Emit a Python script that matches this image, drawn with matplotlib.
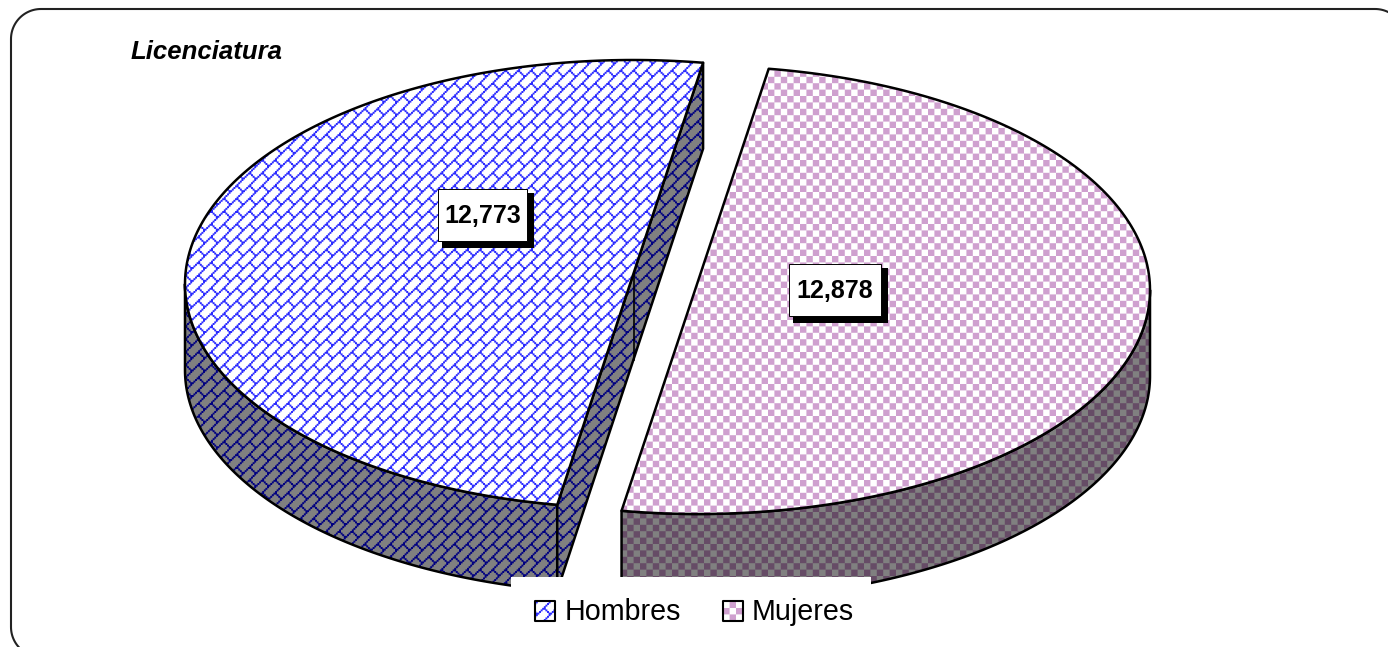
import numpy as np
import matplotlib
matplotlib.use("Agg")
import matplotlib.pyplot as plt
from matplotlib.patches import Polygon, Rectangle
from matplotlib.colors import to_rgb

plt.rcParams['font.family'] = ['Liberation Sans', 'DejaVu Sans']

W, H = 1388, 647

categories = ['Hombres', 'Mujeres']
values = [12773, 12878]
title = 'Licenciatura'

# gdi style hatch tiles, scaled up in the source picture
BRICK = np.array([
    [0, 0, 0, 0, 0, 0, 0, 1],
    [0, 0, 0, 0, 0, 0, 1, 0],
    [0, 0, 0, 0, 0, 1, 0, 0],
    [0, 0, 0, 0, 1, 0, 0, 0],
    [0, 0, 0, 1, 1, 0, 0, 0],
    [0, 0, 1, 0, 0, 1, 0, 0],
    [0, 1, 0, 0, 0, 0, 1, 0],
    [1, 0, 0, 0, 0, 0, 0, 1],
])
CHECK = np.array([
    [1, 1, 1, 1, 0, 0, 0, 0],
    [1, 1, 1, 1, 0, 0, 0, 0],
    [1, 1, 1, 1, 0, 0, 0, 0],
    [1, 1, 1, 1, 0, 0, 0, 0],
    [0, 0, 0, 0, 1, 1, 1, 1],
    [0, 0, 0, 0, 1, 1, 1, 1],
    [0, 0, 0, 0, 1, 1, 1, 1],
    [0, 0, 0, 0, 1, 1, 1, 1],
])


def texture(tile, bg, fg, grow=0):
    # 1 tile pixel = 1.6 image pixels, supersampled 5x
    hi = np.kron(tile, np.ones((8, 8)))
    ny = H * 5 // hi.shape[0] + 2
    nx = W * 5 // hi.shape[1] + 2
    hi = np.tile(hi, (ny, nx))
    # thicken thin hatch lines a little, the source is blurred
    for s in range(1, grow + 1):
        hi = np.maximum.reduce([hi, np.roll(hi, s, 0), np.roll(hi, -s, 0),
                                np.roll(hi, s, 1), np.roll(hi, -s, 1)])
    hi = hi[:H * 5, :W * 5]
    m = hi.reshape(H, 5, W, 5).mean(axis=(1, 3))[..., None]
    return np.array(to_rgb(bg)) * (1 - m) + np.array(to_rgb(fg)) * m


def fill(ax, pts, tex, z, lw=1.8):
    outline = Polygon(pts, closed=True, fc='none', ec='black', lw=lw, zorder=z + 0.1, joinstyle='round')
    ax.add_patch(outline)
    im = ax.imshow(tex, extent=(0, W, H, 0), aspect='auto', interpolation='nearest', zorder=z)
    im.set_clip_path(outline)


def arc(cx, cy, a, b, t0, t1, n=200):
    t = np.radians(np.linspace(t0, t1, n))
    return np.column_stack([cx + a * np.cos(t), cy - b * np.sin(t)])


fig = plt.figure(figsize=(W / 100, H / 100), dpi=100)
ax = fig.add_axes([0, 0, 1, 1])

tex_h = texture(BRICK, 'white', '#2a2aff', grow=1)
tex_hw = texture(BRICK, '#808080', '#000080', grow=1)
tex_m = texture(CHECK, 'white', '#cfa0cf')
tex_mw = texture(CHECK, '#808080', '#664c66')

start = 81.0
depth = 86
sweep = [360 * v / sum(values) for v in values]
split = start + sweep[0]

# hombres slice
hc = (633, 284, 448, 224)
top_h = arc(*hc, start, split)
apex = np.array([634, 272])
down = np.array([0, depth])
cut = [top_h[0], top_h[0] + down, apex + down, top_h[-1] + down, top_h[-1]]
low = arc(*hc, 180, split)
fill(ax, np.vstack([low, low[::-1] + down]), tex_hw, 2)
fill(ax, cut, tex_hw, 3)
fill(ax, np.vstack([top_h, apex]), tex_h, 4)
ax.plot([apex[0], apex[0]], [apex[1], apex[1] + depth + 2], color='black', lw=1.2, zorder=3.5)

# mujeres slice
mc = (698, 290, 452, 224)
top_m = arc(*mc, split, start + 360)
low = arc(*mc, split, 360)
fill(ax, np.vstack([low, low[::-1] + down]), tex_mw, 2)
fill(ax, top_m, tex_m, 4)

# value labels with drop shadow
label_boxes = [(438, 189, 89, 52), (789, 264, 92, 52)]
for (x, y, w, h), v in zip(label_boxes, values):
    ax.add_patch(Rectangle((x + 4, y + 4), w + 3, h + 3, fc='black', ec='none', zorder=6))
    ax.add_patch(Rectangle((x, y), w, h, fc='white', ec='black', lw=0.7, zorder=7))
    ax.text(x + w / 2, y + h / 2 + 1, f'{v:,}', ha='center', va='center', fontsize=18,
            fontweight='bold', color='black', zorder=8)

# legend
ax.add_patch(Rectangle((511, 577), 360, 70, fc='white', ec='none', zorder=9))
for cat, sx, tx, tex in zip(categories, [535, 723], [565, 752], [tex_h, tex_m]):
    fill(ax, [(sx, 601), (sx + 20, 601), (sx + 20, 621), (sx, 621)], tex, 10, lw=1.5)
    ax.text(tx, 620, cat, ha='left', va='baseline', fontsize=20.6, color='black', zorder=11)

ax.text(131, 59, title, ha='left', va='baseline', fontsize=18.5, fontweight='bold',
        fontstyle='italic', color='black', zorder=11)

# rounded chart border, runs off the picture at right and bottom
x0, y0, x1, y1, r = 11, 9, 1405, 657, 30
border = np.vstack([
    arc(x0 + r, y1 - r, r, r, 270, 180, 30),
    arc(x0 + r, y0 + r, r, r, 180, 90, 30),
    arc(x1 - r, y0 + r, r, r, 90, 0, 30),
])
ax.plot(border[:, 0], border[:, 1], color='#222222', lw=1.5, zorder=12)

ax.set_xlim(0, W)
ax.set_ylim(H, 0)
ax.axis('off')
fig.savefig('out.png', dpi=100)
